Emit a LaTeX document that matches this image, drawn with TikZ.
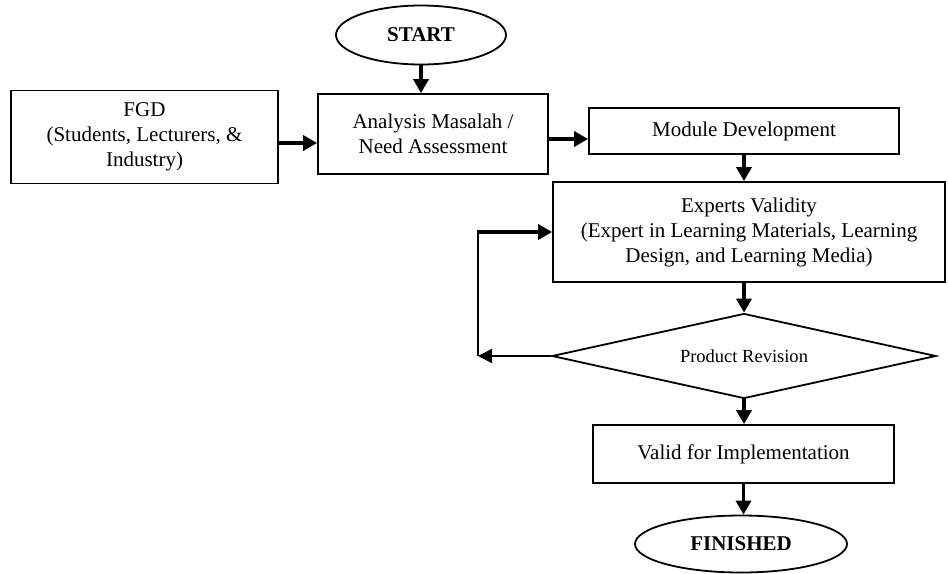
\documentclass[tikz,border=0pt]{standalone}
\usepackage{fontspec}
\setmainfont{Liberation Serif}
\usetikzlibrary{arrows.meta,shapes.geometric}

\tikzset{
  box/.style={draw, line width=1.8pt, align=center, inner sep=0pt, font=\fontsize{21}{25}\selectfont},
  term/.style={draw, ellipse, line width=1.8pt, inner sep=0pt, font=\fontsize{21}{25}\selectfont\bfseries},
  decide/.style={draw, diamond, aspect=4.5, line width=1.8pt, inner sep=0pt, font=\fontsize{18.5}{22}\selectfont},
  flow/.style={line width=3.6pt, -{Triangle[length=14pt,width=15pt]}},
  back/.style={line width=2pt, -{Triangle[length=14pt,width=14pt]}},
}

\begin{document}
\begin{tikzpicture}[x=1pt,y=-1pt]
		%%%%% START %%%%%
		\useasboundingbox (0,0) rectangle (949,573);
		
		\node[term, minimum width=170pt, minimum height=59pt] (start) at (421,35) {START};
		
		\node[box, minimum width=267pt, minimum height=93pt] (fgd) at (144.5,137) {FGD\\(Students, Lecturers, \&\\Industry)};
		\node[box, minimum width=230pt, minimum height=80pt] (analysis) at (433,134) {Analysis Masalah /\\Need Assessment};
		\node[box, minimum width=310pt, minimum height=46pt] (module) at (744,131) {Module Development};
		\node[box, minimum width=392pt, minimum height=100pt] (experts) at (749,232) {Experts Validity\\(Expert in Learning Materials, Learning\\Design, and Learning Media)};
		
		\node[decide, minimum width=384pt, minimum height=85pt] (revision) at (744,356) {Product Revision};
		
		\node[box, minimum width=301pt, minimum height=58pt] (valid) at (743.5,454) {Valid for Implementation};
		\node[term, minimum width=212pt, minimum height=57pt] (finish) at (741,544) {FINISHED};
		
		\coordinate (loopdown) at (478,356);
		\coordinate (loopup) at (478,232);
		
		\draw[flow] (start.south) -- (start.south |- analysis.north);
		\draw[flow] ([yshift=-6pt]fgd.east) -- ([yshift=-6pt]fgd.east -| analysis.west);
		\draw[flow] ([yshift=-5pt]analysis.east) -- ([yshift=-5pt]analysis.east -| module.west);
		\draw[flow] (module.south) -- (module.south |- experts.north);
		\draw[flow] (revision.north |- experts.south) -- (revision.north);
		\draw[flow] (revision.south) -- (revision.south |- valid.north);
		\draw[flow] (valid.south) -- (valid.south |- finish.north);
		
		\draw[back] (revision.west) -- (loopdown);
		\draw[line width=2pt] (loopdown) -- ([yshift=-1.8pt]loopup);
		\draw[flow] ([xshift=-1pt]loopup) -- (experts.west);
		
		%%%%% END %%%%%
\end{tikzpicture}
\end{document}
